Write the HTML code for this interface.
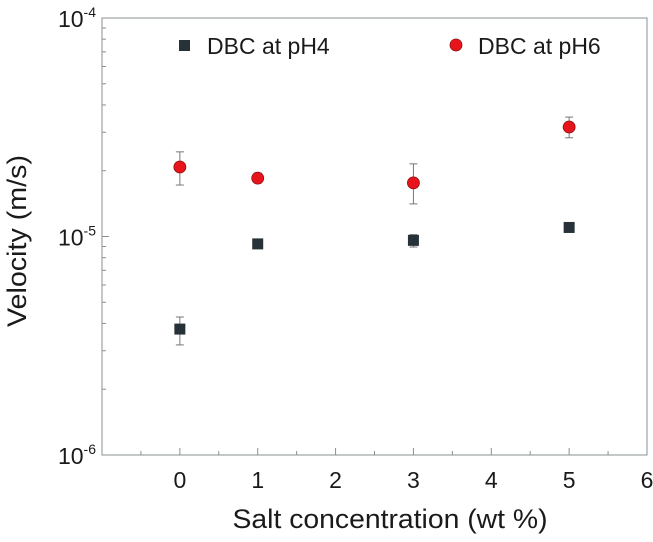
<!DOCTYPE html>
<html><head><meta charset="utf-8"><style>
body{margin:0;background:#fff;}
svg text{font-family:"Liberation Sans",Arial,sans-serif;fill:#1a1a1a;}
</style></head><body>
<svg id="chart" width="653" height="537" xmlns="http://www.w3.org/2000/svg">
<rect x="102" y="18" width="545" height="437" fill="none" stroke="#8a9090" stroke-width="1"/>
<g id="ticks"></g>
<g id="marks"></g>
<text x="26" y="241" font-size="27" text-anchor="middle" textLength="172" lengthAdjust="spacingAndGlyphs" transform="rotate(-90 26 241)">Velocity (m/s)</text>
<text x="390" y="528" font-size="27" text-anchor="middle" textLength="315" lengthAdjust="spacingAndGlyphs">Salt concentration (wt %)</text>
<g>
<rect x="179" y="40" width="11" height="11" fill="#263238"/>
<text x="207" y="54" font-size="23">DBC at pH4</text>
<circle cx="456" cy="45" r="6" fill="#e8141c" stroke="#8a1010" stroke-width="0.8"/>
<text x="478" y="54" font-size="23">DBC at pH6</text>
</g>
</svg>
<script>
const xCats=[0,1,3,5];
const ph4=[3.77e-6,9.25e-6,9.6e-6,1.1e-5];
const ph4Lo=[3.19e-6,9.0e-6,8.95e-6,1.08e-5];
const ph4Hi=[4.28e-6,9.5e-6,1.02e-5,1.12e-5];
const ph6=[2.08e-5,1.85e-5,1.76e-5,3.17e-5];
const ph6Lo=[1.72e-5,1.76e-5,1.41e-5,2.83e-5];
const ph6Hi=[2.44e-5,1.95e-5,2.15e-5,3.52e-5];
const xTicks=[0,1,2,3,4,5,6];
const yTicks=[-6,-5,-4];
const NS="http://www.w3.org/2000/svg";
const X0=102,X1=647,Y0=455,Y1=18;
function sx(v){return X0+(v+1)/7*(X1-X0);}
function sy(v){return Y0-(Math.log10(v)+6)/2*(Y0-Y1);}
function mk(tag,attrs,parent){const e=document.createElementNS(NS,tag);for(const k in attrs)e.setAttribute(k,attrs[k]);parent.appendChild(e);return e;}
const tg=document.getElementById('ticks');
for(let v=-0.5;v<=6;v+=0.5){
  const x=sx(v),maj=Number.isInteger(v);
  const t=mk('line',{x1:x,x2:x,y1:Y0,y2:Y0-(maj?7:4),stroke:'#8a9090'},tg);
  
  
}
xTicks.forEach(v=>{
  const t=mk('text',{x:sx(v),y:488,'font-size':23,'text-anchor':'middle'},tg);
  t.textContent=v;
  
  
});
for(let d=-6;d<-4;d++){for(let m=1;m<10;m++){
  const y=sy(m*Math.pow(10,d));const maj=m===1;
  const t=mk('line',{x1:X0,x2:X0+(maj?7:4),y1:y,y2:y,stroke:'#8a9090'},tg);
  
  
}}
yTicks.forEach(d=>{
  const t=mk('text',{x:96,y:sy(Math.pow(10,d))+9,'font-size':23,'text-anchor':'end'},tg);
  t.innerHTML='10<tspan dy="-10" font-size="14">'+d+'</tspan>';
  
  
});
const mg=document.getElementById('marks');
function errbar(x,lo,hi){
  const g=mk('g',{stroke:'#777','stroke-width':1},mg);
  
  
  mk('line',{x1:x,x2:x,y1:sy(lo),y2:sy(hi)},g);
  mk('line',{x1:x-4,x2:x+4,y1:sy(lo),y2:sy(lo)},g);
  mk('line',{x1:x-4,x2:x+4,y1:sy(hi),y2:sy(hi)},g);
}
xCats.forEach((c,i)=>{
  const x=sx(c);
  errbar(x,ph4Lo[i],ph4Hi[i]);
  const r=mk('rect',{x:x-5.5,y:sy(ph4[i])-5.5,width:11,height:11,fill:'#263238'},mg);
  
  
  errbar(x,ph6Lo[i],ph6Hi[i]);
  const p=mk('circle',{cx:x,cy:sy(ph6[i]),r:6,fill:'#e8141c',stroke:'#8a1010','stroke-width':0.8},mg);
  
  
});
</script>
</body></html>
